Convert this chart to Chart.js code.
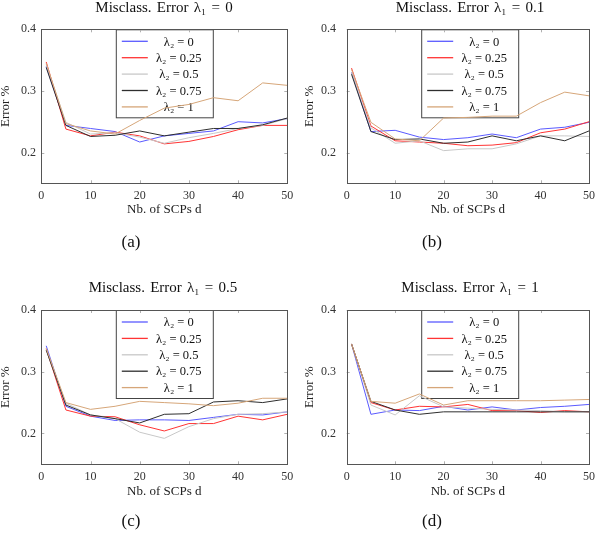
<!DOCTYPE html>
<html>
<head>
<meta charset="UTF-8">
<title>Misclass. Error</title>
<script src="https://cdn.jsdelivr.net/npm/chart.js"></script>
<style>
  body { margin: 0; background: #fff; }
  #wrap { position: relative; width: 600px; height: 537px; overflow: hidden; font-family: "Liberation Serif", "DejaVu Serif", serif; color: #111; }
  .panel { position: absolute; }
  .ttl { position: absolute; font-size: 15px; word-spacing: 1.5px; white-space: pre; transform: translateX(-50%); }
  .cap { position: absolute; font-size: 17px; transform: translateX(-50%); }
</style>
</head>
<body>
<div id="wrap"></div>
<script>
// x axis: number of SCPs d
var dVals = [1, 5, 10, 15, 20, 25, 30, 35, 40, 45, 50];
var xTicks = [0, 10, 20, 30, 40, 50];
var yTicks = [0.2, 0.3, 0.4];
var legendLabels = ['λ₂ = 0', 'λ₂ = 0.25', 'λ₂ = 0.5', 'λ₂ = 0.75', 'λ₂ = 1'];
var lineColors = ['#5a5aff', '#ff3434', '#c8c8c8', '#2e2e2e', '#d6a679'];
var panelTitles = ['Misclass. Error λ₁ = 0', 'Misclass. Error λ₁ = 0.1', 'Misclass. Error λ₁ = 0.5', 'Misclass. Error λ₁ = 1'];
var panelCaps = ['(a)', '(b)', '(c)', '(d)'];

// (a) lambda1 = 0
var errA_0    = [0.340, 0.244, 0.239, 0.234, 0.217, 0.227, 0.231, 0.235, 0.250, 0.248, 0.255];
var errA_025  = [0.347, 0.238, 0.227, 0.233, 0.227, 0.214, 0.218, 0.226, 0.237, 0.244, 0.244];
var errA_05   = [0.343, 0.249, 0.230, 0.232, 0.225, 0.215, 0.224, 0.231, 0.239, 0.244, 0.255];
var errA_075  = [0.338, 0.244, 0.226, 0.228, 0.235, 0.227, 0.233, 0.239, 0.239, 0.245, 0.256];
var errA_1    = [0.345, 0.247, 0.235, 0.230, 0.252, 0.272, 0.278, 0.289, 0.284, 0.313, 0.309];

// (b) lambda1 = 0.1
var errB_0    = [0.330, 0.234, 0.236, 0.225, 0.221, 0.224, 0.230, 0.224, 0.238, 0.241, 0.249];
var errB_025  = [0.337, 0.243, 0.219, 0.217, 0.215, 0.211, 0.212, 0.216, 0.232, 0.238, 0.250];
var errB_05   = [0.330, 0.240, 0.215, 0.219, 0.203, 0.206, 0.206, 0.214, 0.227, 0.227, 0.226];
var errB_075  = [0.327, 0.234, 0.221, 0.222, 0.215, 0.217, 0.227, 0.219, 0.227, 0.219, 0.235];
var errB_1    = [0.335, 0.249, 0.222, 0.219, 0.256, 0.257, 0.259, 0.259, 0.281, 0.298, 0.292];

// (c) lambda1 = 0.5
var errC_0    = [0.342, 0.244, 0.228, 0.221, 0.222, 0.222, 0.221, 0.226, 0.231, 0.230, 0.235];
var errC_025  = [0.337, 0.238, 0.228, 0.227, 0.214, 0.204, 0.216, 0.216, 0.228, 0.222, 0.231];
var errC_05   = [0.335, 0.249, 0.230, 0.224, 0.202, 0.192, 0.211, 0.224, 0.231, 0.232, 0.235];
var errC_075  = [0.335, 0.246, 0.230, 0.224, 0.217, 0.231, 0.232, 0.251, 0.253, 0.250, 0.256];
var errC_1    = [0.338, 0.250, 0.239, 0.244, 0.252, 0.250, 0.248, 0.245, 0.249, 0.257, 0.257];

// (d) lambda1 = 1
var errD_0    = [0.345, 0.231, 0.238, 0.237, 0.244, 0.238, 0.243, 0.238, 0.242, 0.244, 0.247];
var errD_025  = [0.345, 0.250, 0.238, 0.244, 0.243, 0.247, 0.237, 0.237, 0.234, 0.237, 0.235];
var errD_05   = [0.345, 0.246, 0.230, 0.261, 0.243, 0.241, 0.239, 0.238, 0.237, 0.235, 0.235];
var errD_075  = [0.345, 0.252, 0.238, 0.231, 0.235, 0.235, 0.235, 0.235, 0.235, 0.235, 0.235];
var errD_1    = [0.345, 0.252, 0.249, 0.264, 0.246, 0.253, 0.253, 0.253, 0.253, 0.254, 0.255];

var panelSeries = [
  [errA_0, errA_025, errA_05, errA_075, errA_1],
  [errB_0, errB_025, errB_05, errB_075, errB_1],
  [errC_0, errC_025, errC_05, errC_075, errC_1],
  [errD_0, errD_025, errD_05, errD_075, errD_1]
];

// placement of each panel on the page
var panels = [
  { x: 0,   y: 0,   left: 41.3, right: 287.3, top: 29.3, bottom: 183.3, yTitle: -2, xTitlePad: 5.5, ttlX: 164, ttlY: -1,  capX: 131, capY: 232 },
  { x: 300, y: 0,   left: 46.7, right: 293.3, top: 29.3, bottom: 183.3, yTitle: 1.5, xTitlePad: 5.5, ttlX: 470, ttlY: -1,  capX: 432, capY: 232 },
  { x: 0,   y: 280, left: 41.3, right: 287.3, top: 30,   bottom: 184.3, yTitle: -2, xTitlePad: 4.5, ttlX: 163, ttlY: 279, capX: 131, capY: 511 },
  { x: 300, y: 280, left: 46.7, right: 293.3, top: 30,   bottom: 184.3, yTitle: 1.5, xTitlePad: 4.5, ttlX: 470, ttlY: 279, capX: 432, capY: 511 }
];

var CW = 300, CH = 260, XH = 40;
var serif = '"Liberation Serif", "DejaVu Serif", serif';

// legend box inside the plot, lines drawn over it
var boxLegend = {
  id: 'boxLegend',
  beforeDatasetsDraw: function(chart) {
    var ctx = chart.ctx, a = chart.chartArea;
    var bx = a.left + 74.5, by = a.top, bw = 98, bh = 89;
    ctx.save();
    ctx.fillStyle = '#fff';
    ctx.fillRect(bx, by, bw, bh);
    ctx.strokeStyle = '#444';
    ctx.lineWidth = 1;
    ctx.strokeRect(bx + 0.5, by + 0.5, bw - 1, bh - 1);
    ctx.font = '12.5px ' + serif;
    ctx.textAlign = 'center';
    ctx.textBaseline = 'middle';
    chart.data.datasets.forEach(function(ds, i) {
      var ry = by + 12 + i * 16.4;
      ctx.strokeStyle = ds.borderColor;
      ctx.lineWidth = 1.3;
      ctx.beginPath();
      ctx.moveTo(bx + 6, ry);
      ctx.lineTo(bx + 32, ry);
      ctx.stroke();
      ctx.fillStyle = '#111';
      ctx.fillText(ds.label, bx + 63, ry + 1);
    });
    ctx.restore();
  },
  afterDraw: function(chart) {
    var ctx = chart.ctx, a = chart.chartArea;
    var sx = chart.scales.x, sy = chart.scales.y;
    ctx.save();
    ctx.strokeStyle = '#b0b0b0';
    ctx.lineWidth = 1;
    ctx.beginPath();
    xTicks.forEach(function(v) {
      var px = Math.round(sx.getPixelForValue(v)) + 0.5;
      ctx.moveTo(px, a.top); ctx.lineTo(px, a.top + 3);
      ctx.moveTo(px, a.bottom); ctx.lineTo(px, a.bottom - 3);
    });
    yTicks.forEach(function(v) {
      var py = Math.round(sy.getPixelForValue(v)) + 0.5;
      ctx.moveTo(a.left, py); ctx.lineTo(a.left + 3, py);
      ctx.moveTo(a.right, py); ctx.lineTo(a.right - 3, py);
    });
    ctx.stroke();
    ctx.strokeStyle = '#555';
    ctx.strokeRect(Math.round(a.left) + 0.5, Math.round(a.top) + 0.5,
      Math.round(a.right - a.left), Math.round(a.bottom - a.top));
    ctx.restore();
  }
};

var wrap = document.getElementById('wrap');

panels.forEach(function(p, k) {
  var div = document.createElement('div');
  div.className = 'panel';
  div.style.left = p.x + 'px';
  div.style.top = p.y + 'px';
  var cv = document.createElement('canvas');
  cv.width = CW; cv.height = CH;
  cv.style.width = CW + 'px'; cv.style.height = CH + 'px';
  div.appendChild(cv);
  wrap.appendChild(div);

  var t = document.createElement('div');
  t.className = 'ttl';
  t.style.left = p.ttlX + 'px';
  t.style.top = p.ttlY + 'px';
  t.textContent = panelTitles[k];
  wrap.appendChild(t);

  var c = document.createElement('div');
  c.className = 'cap';
  c.style.left = p.capX + 'px';
  c.style.top = p.capY + 'px';
  c.textContent = panelCaps[k];
  wrap.appendChild(c);

  var datasets = panelSeries[k].map(function(vals, i) {
    return {
      label: legendLabels[i],
      data: vals.map(function(v, j) { return { x: dVals[j], y: v }; }),
      borderColor: lineColors[i],
      borderWidth: 1,
      pointRadius: 0,
      tension: 0,
      fill: false,
      order: 4 - i
    };
  });

  new Chart(cv.getContext('2d'), {
    type: 'line',
    data: { datasets: datasets },
    options: {
      responsive: false,
      animation: false,
      layout: { padding: { left: 0, top: p.top, right: CW - p.right, bottom: CH - p.bottom - XH } },
      plugins: { legend: { display: false }, tooltip: { enabled: false } },
      scales: {
        x: {
          type: 'linear', min: 0, max: 50,
          grid: { display: false, drawTicks: false },
          border: { display: false },
          afterBuildTicks: function(s) { s.ticks = xTicks.map(function(v) { return { value: v }; }); },
          afterFit: function(s) { s.height = XH; },
          ticks: { padding: 5, color: '#333', font: { family: serif, size: 12 }, maxRotation: 0 },
          title: { display: true, text: 'Nb. of SCPs d', color: '#222', font: { family: serif, size: 13 }, padding: { top: 0, bottom: p.xTitlePad } }
        },
        y: {
          min: 0.15, max: 0.4,
          grid: { display: false, drawTicks: false },
          border: { display: false },
          afterBuildTicks: function(s) { s.ticks = yTicks.map(function(v) { return { value: v }; }); },
          afterFit: function(s) { s.width = p.left; },
          ticks: { padding: p.left - 36, color: '#333', font: { family: serif, size: 12 },
                   callback: function(v) { return v.toFixed(1); } },
          title: { display: true, text: 'Error %', color: '#222', font: { family: serif, size: 13 }, padding: { top: p.yTitle, bottom: 0 } }
        }
      }
    },
    plugins: [boxLegend]
  });
});
</script>
</body>
</html>
